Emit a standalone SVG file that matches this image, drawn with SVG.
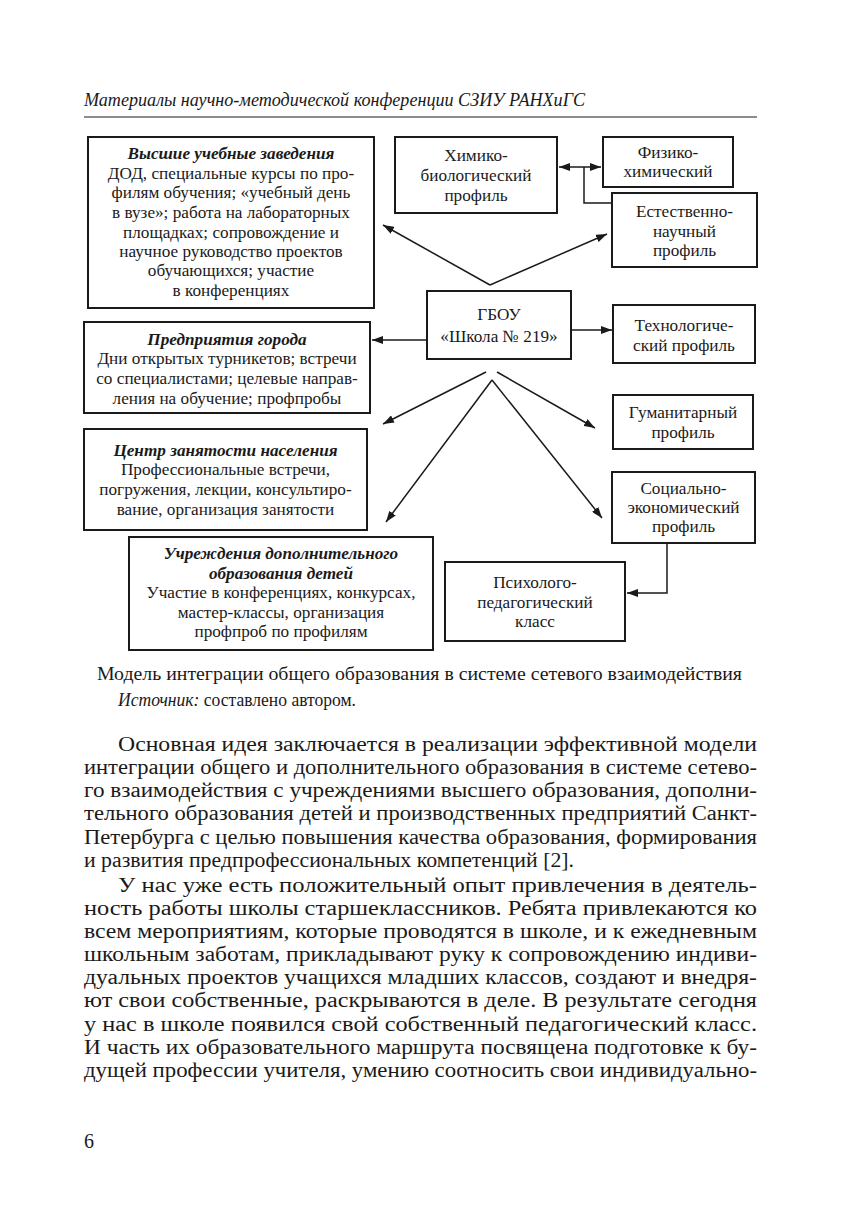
<svg xmlns="http://www.w3.org/2000/svg" width="857" height="1211" viewBox="0 0 857 1211">
<style>
.bg{fill:#fff}
.box{fill:#fff;stroke:#1a1a1a;stroke-width:2}
.t{font-family:"Liberation Serif","Times New Roman",serif;font-size:17.2px;fill:#1a1a1a;text-anchor:middle}
.h{font-weight:bold;font-style:italic}
.ln{fill:none;stroke:#1a1a1a;stroke-width:1.5}
.body{font-family:"Liberation Serif","Times New Roman",serif;font-size:20px;fill:#1a1a1a}
.cap{font-family:"Liberation Serif","Times New Roman",serif;font-size:18px;fill:#1a1a1a}
</style>
<defs>
<marker id="ah" markerUnits="userSpaceOnUse" markerWidth="12" markerHeight="8" refX="11" refY="4" orient="auto-start-reverse" viewBox="0 0 12 8">
<path d="M0,0 L11,4 L0,8 z" fill="#1a1a1a"/>
</marker>
</defs>
<rect class="bg" x="0" y="0" width="857" height="1211"/>

<g id="header">
<text class="cap" x="84" y="106" font-style="italic" textLength="501" lengthAdjust="spacingAndGlyphs">Материалы научно-методической конференции СЗИУ РАНХиГС</text>
<line x1="84" y1="117" x2="757" y2="117" stroke="#1a1a1a" stroke-width="1.2"/>
</g>

<g id="connectors">
<line class="ln" x1="559" y1="167" x2="601" y2="167" marker-start="url(#ah)" marker-end="url(#ah)"/>
<polyline class="ln" points="584,167 584,203 612,203"/>
<line class="ln" x1="490" y1="285" x2="383" y2="225" marker-end="url(#ah)"/>
<line class="ln" x1="490" y1="285" x2="607" y2="234" marker-end="url(#ah)"/>
<line class="ln" x1="427" y1="340" x2="372" y2="340" marker-end="url(#ah)"/>
<line class="ln" x1="571" y1="330" x2="612" y2="330" marker-end="url(#ah)"/>
<line class="ln" x1="486" y1="372" x2="383" y2="424" marker-end="url(#ah)"/>
<line class="ln" x1="497" y1="372" x2="595" y2="428" marker-end="url(#ah)"/>
<line class="ln" x1="492" y1="380" x2="386" y2="522" marker-end="url(#ah)"/>
<line class="ln" x1="492" y1="380" x2="602" y2="518" marker-end="url(#ah)"/>
<polyline class="ln" points="667,543 667,593 627,593" marker-end="url(#ah)"/>
</g>

<g id="vuz">
<rect class="box" x="88" y="137" width="286" height="171"/>
<text class="t h" x="231" y="159">Высшие учебные заведения</text>
<text class="t" x="231" y="179">ДОД, специальные курсы по про-</text>
<text class="t" x="231" y="198">филям обучения; «учебный день</text>
<text class="t" x="231" y="218">в вузе»; работа на лабораторных</text>
<text class="t" x="231" y="238">площадках; сопровождение и</text>
<text class="t" x="231" y="257">научное руководство проектов</text>
<text class="t" x="231" y="276">обучающихся; участие</text>
<text class="t" x="231" y="296">в конференциях</text>
</g>

<g id="himbio">
<rect class="box" x="395" y="137" width="162" height="76"/>
<text class="t" x="476" y="161">Химико-</text>
<text class="t" x="476" y="181">биологический</text>
<text class="t" x="476" y="201">профиль</text>
</g>

<g id="fizhim">
<rect class="box" x="603" y="137" width="130" height="50"/>
<text class="t" x="668" y="158">Физико-</text>
<text class="t" x="668" y="177">химический</text>
</g>

<g id="estnauch">
<rect class="box" x="612" y="193" width="145" height="74"/>
<text class="t" x="684.5" y="217">Естественно-</text>
<text class="t" x="684.5" y="237">научный</text>
<text class="t" x="684.5" y="256">профиль</text>
</g>

<g id="gbou">
<rect class="box" x="427" y="291" width="144" height="68"/>
<text class="t" x="499" y="320">ГБОУ</text>
<text class="t" x="499" y="342">«Школа № 219»</text>
</g>

<g id="tech">
<rect class="box" x="613" y="305" width="142" height="58"/>
<text class="t" x="684" y="331">Технологиче-</text>
<text class="t" x="684" y="351">ский профиль</text>
</g>

<g id="predpr">
<rect class="box" x="84" y="322" width="286" height="91"/>
<text class="t h" x="227" y="345">Предприятия города</text>
<text class="t" x="227" y="364">Дни открытых турникетов; встречи</text>
<text class="t" x="227" y="384">со специалистами; целевые направ-</text>
<text class="t" x="227" y="404">ления на обучение; профпробы</text>
</g>

<g id="guman">
<rect class="box" x="613" y="395" width="140" height="54"/>
<text class="t" x="683" y="418">Гуманитарный</text>
<text class="t" x="683" y="438">профиль</text>
</g>

<g id="czn">
<rect class="box" x="84" y="429" width="283" height="101"/>
<text class="t h" x="225.5" y="456">Центр занятости населения</text>
<text class="t" x="225.5" y="475">Профессиональные встречи,</text>
<text class="t" x="225.5" y="495">погружения, лекции, консультиро-</text>
<text class="t" x="225.5" y="515">вание, организация занятости</text>
</g>

<g id="soceco">
<rect class="box" x="612" y="472" width="143" height="71"/>
<text class="t" x="683.5" y="494">Социально-</text>
<text class="t" x="683.5" y="513">экономический</text>
<text class="t" x="683.5" y="532">профиль</text>
</g>

<g id="udod">
<rect class="box" x="129" y="537" width="304" height="113"/>
<text class="t h" x="281" y="559">Учреждения дополнительного</text>
<text class="t h" x="281" y="579">образования детей</text>
<text class="t" x="281" y="598">Участие в конференциях, конкурсах,</text>
<text class="t" x="281" y="618">мастер-классы, организация</text>
<text class="t" x="281" y="637">профпроб по профилям</text>
</g>

<g id="psiped">
<rect class="box" x="445" y="562" width="180" height="79"/>
<text class="t" x="535" y="588">Психолого-</text>
<text class="t" x="535" y="608">педагогический</text>
<text class="t" x="535" y="627">класс</text>
</g>

<g id="caption">
<text class="cap" x="97" y="680" textLength="645" lengthAdjust="spacingAndGlyphs">Модель интеграции общего образования в системе сетевого взаимодействия</text>
<text class="cap" x="118" y="706" font-size="16" textLength="238" lengthAdjust="spacingAndGlyphs"><tspan font-style="italic">Источник:</tspan> составлено автором.</text>
</g>

<g id="bodytext">
<text class="body" x="118" y="751" textLength="639" lengthAdjust="spacingAndGlyphs">Основная идея заключается в реализации эффективной модели</text>
<text class="body" x="84" y="774" textLength="673" lengthAdjust="spacingAndGlyphs">интеграции общего и дополнительного образования в системе сетево-</text>
<text class="body" x="84" y="797" textLength="673" lengthAdjust="spacingAndGlyphs">го взаимодействия с учреждениями высшего образования, дополни-</text>
<text class="body" x="84" y="820" textLength="673" lengthAdjust="spacingAndGlyphs">тельного образования детей и производственных предприятий Санкт-</text>
<text class="body" x="84" y="844" textLength="673" lengthAdjust="spacingAndGlyphs">Петербурга с целью повышения качества образования, формирования</text>
<text class="body" x="84" y="867" textLength="490" lengthAdjust="spacingAndGlyphs">и развития предпрофессиональных компетенций [2].</text>
<text class="body" x="118" y="892" textLength="639" lengthAdjust="spacingAndGlyphs">У нас уже есть положительный опыт привлечения в деятель-</text>
<text class="body" x="84" y="915" textLength="673" lengthAdjust="spacingAndGlyphs">ность работы школы старшеклассников. Ребята привлекаются ко</text>
<text class="body" x="84" y="938" textLength="673" lengthAdjust="spacingAndGlyphs">всем мероприятиям, которые проводятся в школе, и к ежедневным</text>
<text class="body" x="84" y="961" textLength="673" lengthAdjust="spacingAndGlyphs">школьным заботам, прикладывают руку к сопровождению индиви-</text>
<text class="body" x="84" y="984" textLength="673" lengthAdjust="spacingAndGlyphs">дуальных проектов учащихся младших классов, создают и внедря-</text>
<text class="body" x="84" y="1007" textLength="673" lengthAdjust="spacingAndGlyphs">ют свои собственные, раскрываются в деле. В результате сегодня</text>
<text class="body" x="84" y="1031" textLength="673" lengthAdjust="spacingAndGlyphs">у нас в школе появился свой собственный педагогический класс.</text>
<text class="body" x="84" y="1054" textLength="673" lengthAdjust="spacingAndGlyphs">И часть их образовательного маршрута посвящена подготовке к бу-</text>
<text class="body" x="84" y="1077" textLength="673" lengthAdjust="spacingAndGlyphs">дущей профессии учителя, умению соотносить свои индивидуально-</text>
</g>

<g id="pagenum">
<text class="body" x="84" y="1148">6</text>
</g>
</svg>
